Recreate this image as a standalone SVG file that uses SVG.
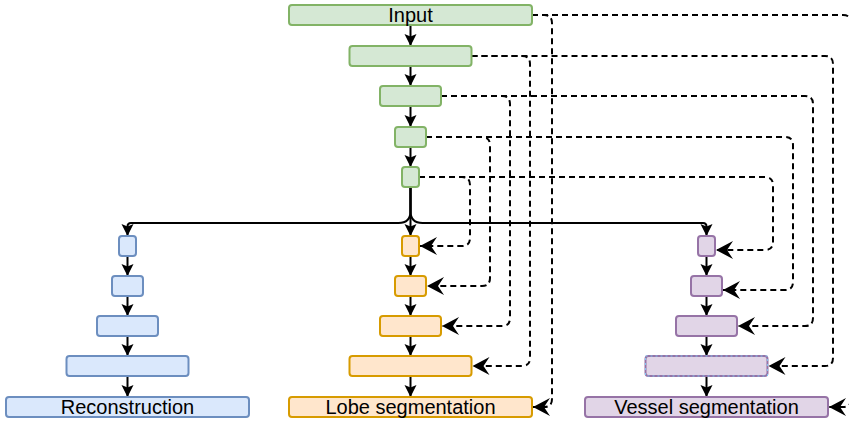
<svg xmlns="http://www.w3.org/2000/svg" width="849" height="422" viewBox="0 0 849 422">
  <style>
    .box { stroke-width: 2; }
    .enc { fill: #d5e8d4; stroke: #82b366; }
    .rec { fill: #dae8fc; stroke: #6c8ebf; }
    .lob { fill: #ffe6cc; stroke: #d79b00; }
    .ves { fill: #e1d5e7; stroke: #9673a6; }
    .lbl { font-family: "Liberation Sans", Arial, Helvetica, sans-serif; font-size: 20px; fill: #000; text-anchor: middle; }
    .flow { fill: none; stroke: #000; stroke-width: 2; marker-end: url(#arr); }
    .skip { fill: none; stroke: #000; stroke-width: 2; stroke-dasharray: 6 4; marker-end: url(#bigArr); }
  </style>
  <defs>
    <marker id="arr" markerUnits="userSpaceOnUse" markerWidth="13" markerHeight="12" refX="12" refY="6" orient="auto" overflow="visible">
      <path d="M0,0 L12,6 L0,12 L2.5,6 Z" fill="#000"/>
    </marker>
    <marker id="bigArr" markerUnits="userSpaceOnUse" markerWidth="18" markerHeight="18" refX="17" refY="9" orient="auto" overflow="visible">
      <path d="M0,0 L17,9 L0,18 L6,9 Z" fill="#000"/>
    </marker>
  </defs>

  <!-- connectors -->
  <g id="connectors">
    <!-- encoder chain -->
    <path class="flow" d="M410.5,25 V46"/>
    <path class="flow" d="M410.5,66 V86"/>
    <path class="flow" d="M410.5,106 V127"/>
    <path class="flow" d="M410.5,147 V167"/>
    <!-- bottleneck fan-out -->
    <path class="flow" d="M410.5,187 V211 Q410.5,223 398.5,223 H131 Q127.5,223 127.5,226.5 V236"/>
    <path class="flow" d="M410.5,187 V236"/>
    <path class="flow" d="M410.5,187 V211 Q410.5,223 422.5,223 H703 Q706.5,223 706.5,226.5 V236"/>
    <!-- reconstruction decoder -->
    <path class="flow" d="M127.5,256 V276"/>
    <path class="flow" d="M127.5,296 V316"/>
    <path class="flow" d="M127.5,336 V356"/>
    <path class="flow" d="M127.5,376 V397"/>
    <!-- lobe decoder -->
    <path class="flow" d="M410.5,256 V276"/>
    <path class="flow" d="M410.5,296 V316"/>
    <path class="flow" d="M410.5,336 V356"/>
    <path class="flow" d="M410.5,376 V397"/>
    <!-- vessel decoder -->
    <path class="flow" d="M706.5,256 V276"/>
    <path class="flow" d="M706.5,296 V316"/>
    <path class="flow" d="M706.5,336 V356"/>
    <path class="flow" d="M706.5,376 V397"/>

    <!-- skip connections to lobe decoder -->
    <path class="skip" d="M532,15 H544 Q552,15 552,23 V399 Q552,407 544,407 H533"/>
    <path class="skip" d="M471.5,56 H522 Q530,56 530,64 V358 Q530,366 522,366 H472.5"/>
    <path class="skip" d="M441,96 H502 Q510,96 510,104 V318 Q510,326 502,326 H442"/>
    <path class="skip" d="M426,137 H482 Q490,137 490,145 V278 Q490,286 482,286 H427"/>
    <path class="skip" d="M419,177 H462 Q470,177 470,185 V238 Q470,246 462,246 H420"/>

    <!-- skip connections to vessel decoder -->
    <path class="skip" d="M532,15 H843 Q851,15 851,23 V399 Q851,407 843,407 H829"/>
    <path class="skip" d="M471.5,56 H825 Q833,56 833,64 V358 Q833,366 825,366 H768.5"/>
    <path class="skip" d="M441,96 H805 Q813,96 813,104 V318 Q813,326 805,326 H738"/>
    <path class="skip" d="M426,137 H785 Q793,137 793,145 V282 Q793,290 785,290 H723"/>
    <path class="skip" d="M419,177 H765 Q773,177 773,185 V242 Q773,250 765,250 H716"/>
  </g>

  <!-- encoder -->
  <g id="input">
    <rect class="box enc" x="289" y="5" width="243" height="20" rx="3"/>
    <text class="lbl" x="410.5" y="21.5">Input</text>
  </g>
  <g id="enc1"><rect class="box enc" x="349.5" y="46" width="122" height="20" rx="3"/></g>
  <g id="enc2"><rect class="box enc" x="380" y="86" width="61" height="20" rx="3"/></g>
  <g id="enc3"><rect class="box enc" x="395" y="127" width="31" height="20" rx="3"/></g>
  <g id="enc4"><rect class="box enc" x="402" y="167" width="17" height="20" rx="3"/></g>

  <!-- reconstruction decoder -->
  <g id="rec1"><rect class="box rec" x="119" y="236" width="17" height="20" rx="3"/></g>
  <g id="rec2"><rect class="box rec" x="112" y="276" width="31" height="20" rx="3"/></g>
  <g id="rec3"><rect class="box rec" x="97" y="316" width="61" height="20" rx="3"/></g>
  <g id="rec4"><rect class="box rec" x="66.5" y="356" width="122" height="20" rx="3"/></g>
  <g id="reconstruction">
    <rect class="box rec" x="6" y="397" width="243" height="20" rx="3"/>
    <text class="lbl" x="127.5" y="414">Reconstruction</text>
  </g>

  <!-- lobe decoder -->
  <g id="lob1"><rect class="box lob" x="402" y="236" width="17" height="20" rx="3"/></g>
  <g id="lob2"><rect class="box lob" x="395" y="276" width="31" height="20" rx="3"/></g>
  <g id="lob3"><rect class="box lob" x="380" y="316" width="61" height="20" rx="3"/></g>
  <g id="lob4"><rect class="box lob" x="349.5" y="356" width="122" height="20" rx="3"/></g>
  <g id="lobe-segmentation">
    <rect class="box lob" x="289" y="397" width="243" height="20" rx="3"/>
    <text class="lbl" x="410.5" y="414">Lobe segmentation</text>
  </g>

  <!-- vessel decoder -->
  <g id="ves1"><rect class="box ves" x="698" y="236" width="17" height="20" rx="3"/></g>
  <g id="ves2"><rect class="box ves" x="691" y="276" width="31" height="20" rx="3"/></g>
  <g id="ves3"><rect class="box ves" x="676" y="316" width="61" height="20" rx="3"/></g>
  <g id="ves4">
    <rect class="box ves" x="645.5" y="356" width="122" height="20" rx="3"/>
    <rect x="645.5" y="356" width="122" height="20" fill="none" stroke="#7fc4f0" stroke-width="1" stroke-dasharray="2 3"/>
  </g>
  <g id="vessel-segmentation">
    <rect class="box ves" x="585" y="397" width="243" height="20" rx="3"/>
    <text class="lbl" x="706.5" y="414">Vessel segmentation</text>
  </g>
</svg>
